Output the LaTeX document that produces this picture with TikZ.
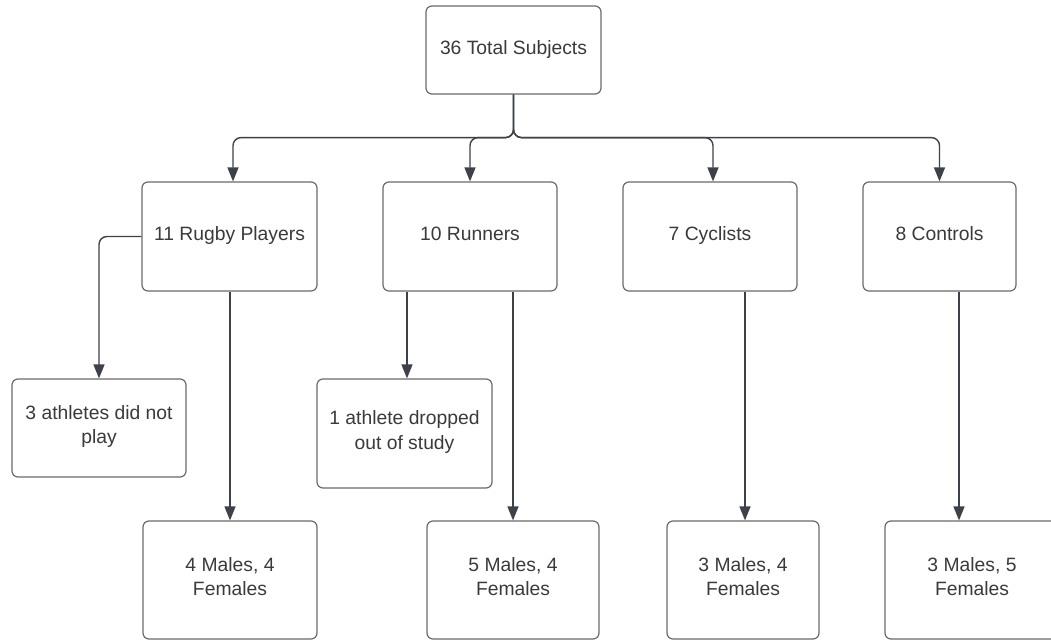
\documentclass[tikz,border=0pt]{standalone}
\usepackage{fontspec}
\setmainfont{Liberation Sans}
\usetikzlibrary{arrows.meta}
\definecolor{txt}{HTML}{3A3A3A}
\definecolor{ln}{HTML}{3D4149}
\definecolor{bd}{HTML}{6B6B6B}
\newcommand{\bxstrut}{\rule[-7bp]{0pt}{23bp}}
\begin{document}
\begin{tikzpicture}[x=1bp,y=-1bp,
  box/.style={draw=bd,line width=1.2bp,rounded corners=6bp,fill=white,
    text=txt,align=center,inner sep=0pt,font=\fontsize{19.3bp}{24.5bp}\selectfont,
    execute at begin node=\bxstrut, execute at end node=\bxstrut},
  arr/.style={draw=ln,line width=1.4bp,-{Triangle[length=14bp,width=11bp]}},
  br/.style={arr,rounded corners=8bp}]
\useasboundingbox (0,0) rectangle (1051,641);
\clip (0,0) rectangle (1051,641);
\fill[white] (0,0) rectangle (1051,641);
% boxes
\node[box,minimum width=175bp,minimum height=88bp] (tot) at (513.5,50) {36 Total Subjects};
\node[box,minimum width=175bp,minimum height=109bp] (rug) at (229.5,236.5) {11 Rugby Players};
\node[box,minimum width=174bp,minimum height=109bp] (run) at (470,236.5) {10 Runners};
\node[box,minimum width=174bp,minimum height=109bp] (cyc) at (710,236.5) {7 Cyclists};
\node[box,minimum width=153bp,minimum height=109bp] (ctl) at (939.5,236.5) {8 Controls};
\node[box,minimum width=174bp,minimum height=98bp] (ath3) at (99,428) {3 athletes did not\\play};
\node[box,minimum width=175bp,minimum height=109bp] (ath1) at (404.5,433.5) {1 athlete dropped\\out of study};
\node[box,minimum width=174bp,minimum height=118bp] (f1) at (230,580) {4 Males, 4\\Females};
\node[box,minimum width=172bp,minimum height=118bp] (f2) at (513,580) {5 Males, 4\\Females};
\node[box,minimum width=152bp,minimum height=118bp] (f3) at (743,580) {3 Males, 4\\Females};
\node[box,minimum width=174bp,minimum height=118bp] (f4) at (972,580) {3 Males, 5\\Females};
% branches from total
\draw[br] (tot.south) -- ++(0,43) -| ([xshift=3.5bp]rug.north);
\draw[br] (tot.south) -- ++(0,43) -| (run.north);
\draw[br] (tot.south) -- ++(0,43) -| ([xshift=3bp]cyc.north);
\draw[br] (tot.south) -- ++(0,43) -| (ctl.north);
% rugby
\draw[br] (rug.west) -| (ath3.north);
\draw[arr] (f1.north |- rug.south) -- (f1.north);
% runners
\draw[arr] ([xshift=2.5bp]ath1.north |- run.south) -- ([xshift=2.5bp]ath1.north);
\draw[arr] (f2.north |- run.south) -- (f2.north);
% cyclists
\draw[arr] ([xshift=2bp]f3.north |- cyc.south) -- ([xshift=2bp]f3.north);
% controls
\draw[arr] ([xshift=-13bp]f4.north |- ctl.south) -- ([xshift=-13bp]f4.north);
\end{tikzpicture}
\end{document}
